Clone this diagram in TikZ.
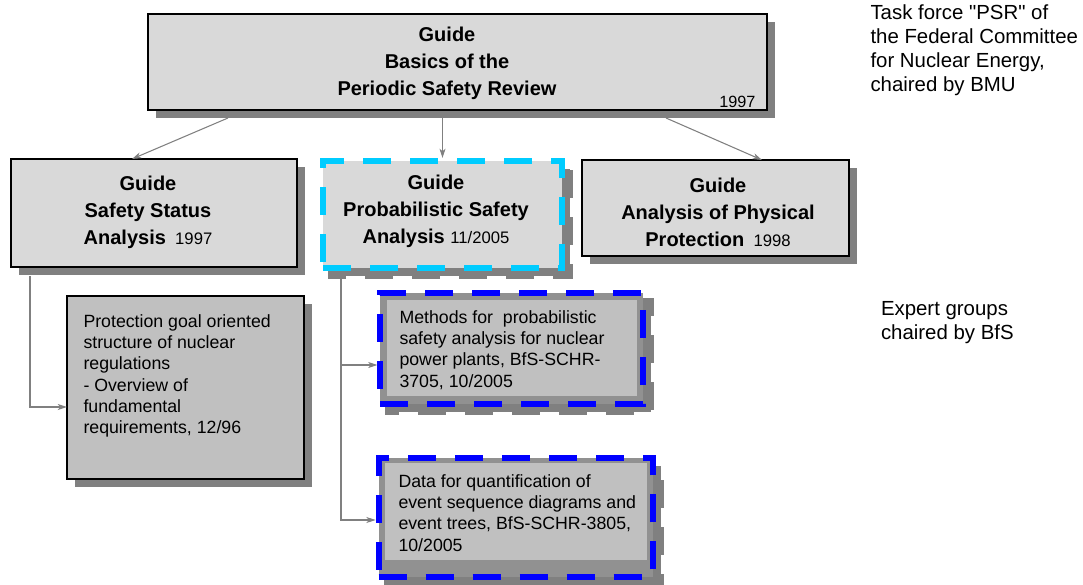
\documentclass[tikz,border=0pt]{standalone}
\usepackage{fontspec}
\setmainfont{Liberation Sans}
\usetikzlibrary{arrows.meta,calc,backgrounds}

\definecolor{boxgray}{RGB}{217,217,217}
\definecolor{notegray}{RGB}{192,192,192}
\definecolor{bandgray}{RGB}{145,145,145}
\definecolor{shadowgray}{RGB}{128,128,128}
\definecolor{linkgray}{RGB}{128,128,128}
\definecolor{psacyan}{RGB}{0,204,255}
\definecolor{groupblue}{RGB}{0,0,255}

\tikzset{every picture/.style={line width=0.75pt}}
\tikzset{
  guidebox/.style={draw=black, fill=boxgray, line width=0.8pt, inner sep=0pt, outer sep=0pt},
  notebox/.style={draw=black, fill=notegray, line width=0.8pt, inner sep=0pt, outer sep=0pt},
  groupdash/.style={line width=4.5pt, dash pattern=on 21pt off 14.25pt},
  guidetitle/.style={align=center, inner sep=0pt, font=\fontsize{15}{20.25}\selectfont\bfseries},
  notetext/.style={align=left, anchor=north west, inner sep=0pt, font=\fontsize{13.3}{15.9}\selectfont},
  sidetext/.style={align=left, anchor=north west, inner sep=0pt, font=\fontsize{15.3}{18}\selectfont},
  link/.style={draw=linkgray, line width=0.8pt, -{Stealth[length=7pt,width=4.5pt,inset=2pt]}},
}
\newcommand{\yr}[1]{{\mdseries\fontsize{12.5}{15}\selectfont #1}}

\begin{document}
\begin{tikzpicture}[x=0.75pt,y=0.75pt,yscale=-1,xscale=1]
\useasboundingbox (0,0) rectangle (1083,585);

%Shape: Rectangle (basics of the review)
\node[guidebox, minimum width=464.25pt, minimum height=72pt] (top) at (457.5,62) {};
%Shape: Rectangle (safety status)
\node[guidebox, minimum width=214.5pt, minimum height=81pt] (ssa) at (154,213) {};
%Shape: Rectangle (probabilistic safety analysis)
\node[guidebox, draw=psacyan, groupdash, minimum width=179.25pt, minimum height=79.9pt] (psa) at (442.5,214.25) {};
%Shape: Rectangle (physical protection)
\node[guidebox, minimum width=200.25pt, minimum height=72pt] (app) at (715.5,208) {};
%Shape: Rectangle (protection goals)
\node[notebox, minimum width=177.75pt, minimum height=137.25pt] (goal) at (185.5,387.5) {};
%Shape: Rectangle (methods)
\node[notebox, fill=bandgray, draw=groupblue, groupdash, minimum width=196.9pt, minimum height=83.6pt] (meth) at (511.75,348.75) {};
\fill[notegray] ($(meth.north west)+(6.5,7)$) rectangle ($(meth.south east)+(-6,-8.5)$);
%Shape: Rectangle (data)
\node[notebox, fill=bandgray, draw=groupblue, groupdash, minimum width=206pt, minimum height=89pt] (data) at (516,517.35) {};
\fill[notegray] ($(data.north west)+(6.3,5)$) rectangle ($(data.south east)+(-6.3,-16.7)$);

% shadows
\begin{scope}[on background layer]
\foreach \b in {top,ssa,app,goal}
  \fill[shadowgray] ($(\b.north west)+(8,8)$) rectangle ($(\b.south east)+(8,8)$);
\foreach \b in {psa,meth,data}
  \draw[shadowgray, fill=shadowgray, groupdash] ($(\b.north west)+(8,8)$) rectangle ($(\b.south east)+(8,8)$);
\end{scope}

%Straight Lines
\draw[link] ($(top.south west)+(80,8)$) -- ($(ssa.north west)+(121,0)$);
\draw[link] ($(top.south -| psa.north)+(0,8)$) -- ($(psa.north)+(0,-3)$);
\draw[link] ($(top.south east)+(-101,8)$) -- ($(app.north west)+(180,0)$);
\draw[link] ($(ssa.south west)+(19,9)$) |- ($(goal.west)+(0,19.5)$);
\draw[link] ($(psa.south west)+(18,11)$) |- ($(meth.west)+(-3,16.25)$);
\draw[link] ($(psa.south west)+(18,11)$) |- ($(data.west)+(-3,2.65)$);

% Text Node
\node[guidetitle] (topT) at (447,62.9) {Guide\\Basics of the\\Periodic Safety Review};
% Text Node
\node[anchor=base east, inner sep=0pt, font=\fontsize{12.2}{14}\selectfont] (topY) at (756,108) {1997};
% Text Node
\node[guidetitle] (ssaT) at (148,211.9) {Guide\\Safety Status\\Analysis\yr{\ \ 1997}};
% Text Node
\node[guidetitle] (psaT) at (436,211.4) {Guide\\Probabilistic Safety\\Analysis \yr{11/2005}};
% Text Node
\node[guidetitle] (appT) at (718,211.9) {Guide\\Analysis of Physical\\Protection\yr{\ \ 1998}};
% Text Node
\node[notetext] (goalT) at (83,314.1) {Protection goal oriented\\structure of nuclear\\regulations\\- Overview of\\fundamental\\requirements, 12/96};
% Text Node
\node[notetext] (methT) at (399,310.1) {Methods for\ \ probabilistic\\safety analysis for nuclear\\power plants, BfS-SCHR-\\3705, 10/2005};
% Text Node
\node[notetext] (dataT) at (398,474.1) {Data for quantification of\\event sequence diagrams and\\event trees, BfS-SCHR-3805,\\10/2005};
% Text Node
\node[sidetext] (bmuT) at (870,4.1) {Task force \textquotedbl PSR\textquotedbl{} of\\the Federal Committee\\for Nuclear Energy,\\chaired by BMU};
% Text Node
\node[sidetext] (bfsT) at (880.5,301) {Expert groups\\chaired by BfS};

\end{tikzpicture}
\end{document}
